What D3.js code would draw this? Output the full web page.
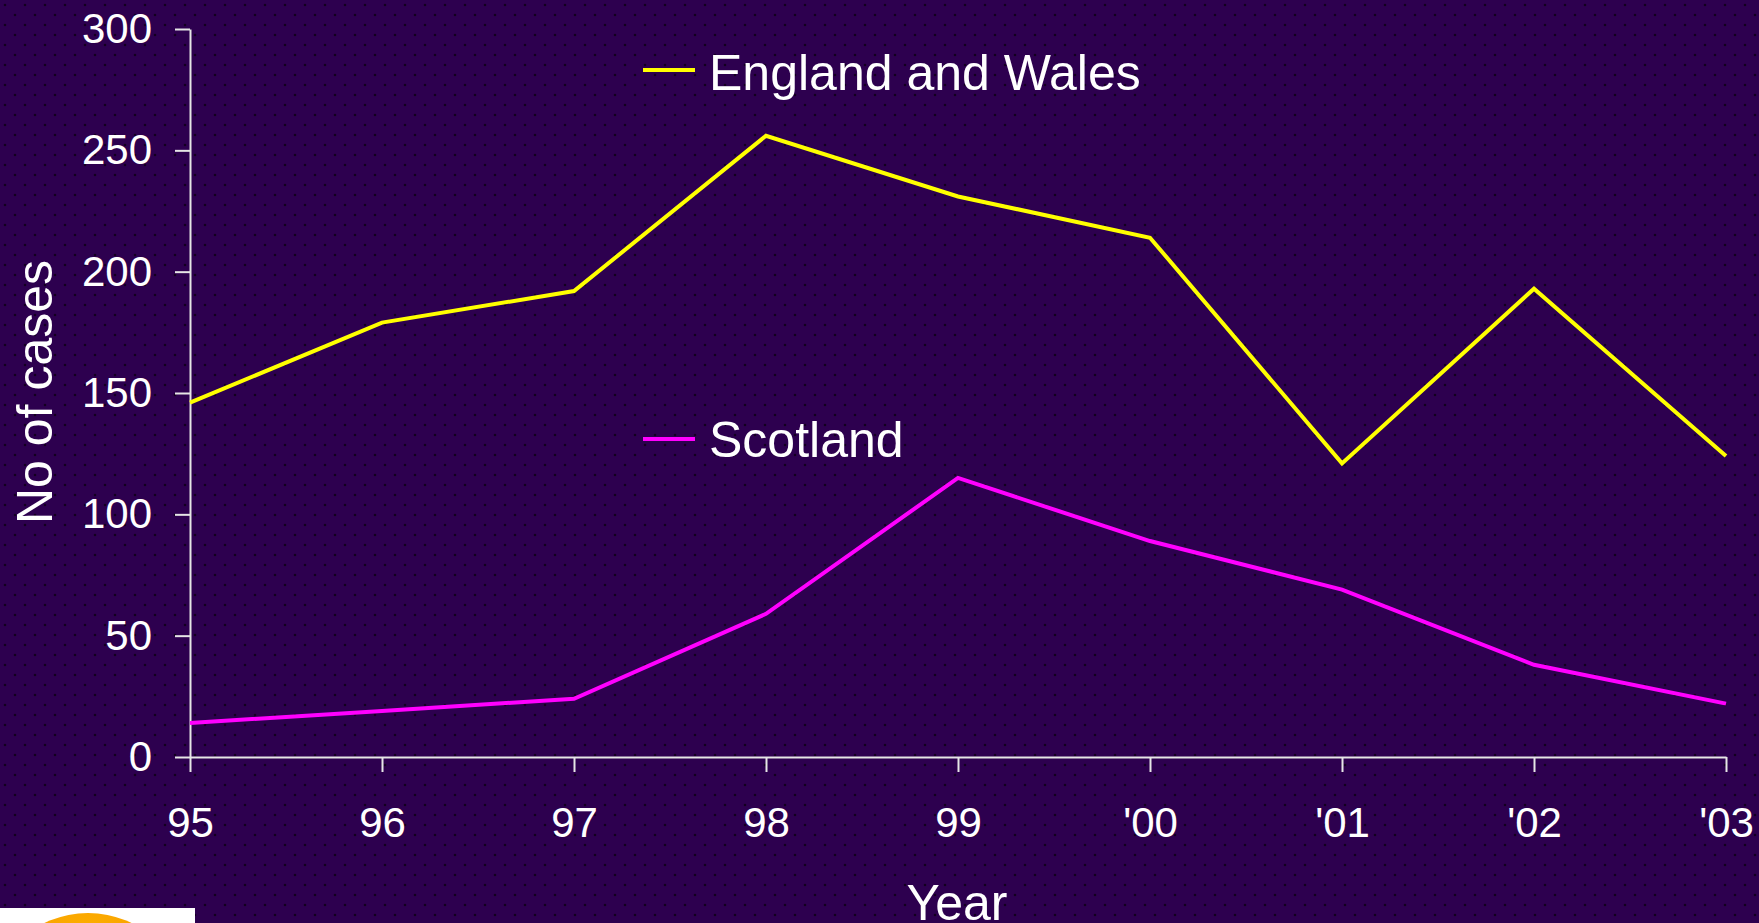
<!DOCTYPE html>
<html>
<head>
<meta charset="utf-8">
<script src="https://cdn.jsdelivr.net/npm/d3@7/dist/d3.min.js"></script>
<style>
  html, body { margin: 0; padding: 0; background: #2d004f; overflow: hidden; }
  svg { display: block; font-family: "Liberation Sans", Arial, sans-serif; }
</style>
</head>
<body>
<svg id="chart" width="1759" height="923"></svg>
<script>
// Reported cases per year
const years = ["95", "96", "97", "98", "99", "'00", "'01", "'02", "'03"];
const englandWales = [146, 179, 192, 256, 231, 214, 121, 193, 124];
const scotland = [14, 19, 24, 59, 115, 89, 69, 38, 22];
const yTicks = [0, 50, 100, 150, 200, 250, 300];
const seriesNames = ["England and Wales", "Scotland"];

const W = 1759, H = 923;
const svg = d3.select("#chart");

// Dotted slide background
const defs = svg.append("defs");
const pat = defs.append("pattern")
  .attr("id", "dots").attr("patternUnits", "userSpaceOnUse")
  .attr("width", 20).attr("height", 20);
pat.append("rect").attr("width", 20).attr("height", 20).attr("fill", "#2d004f");
[[5, 5], [15, 15]].forEach(([cx, cy]) =>
  pat.append("circle").attr("cx", cx).attr("cy", cy).attr("r", 1.3).attr("fill", "#12001f"));
svg.append("rect").attr("width", W).attr("height", H).attr("fill", "url(#dots)");

const grad = defs.append("radialGradient").attr("id", "sun")
  .attr("cx", "50%").attr("cy", "20%").attr("r", "60%");
grad.append("stop").attr("offset", "0%").attr("stop-color", "#ffb400");
grad.append("stop").attr("offset", "100%").attr("stop-color", "#f39200");

// Scales
const x = d3.scalePoint().domain(years).range([190, 1726]);
const y = d3.scaleLinear().domain([0, 300]).range([757, 29]);

const axisColor = "#e6e6e6";

// Y axis
const gy = svg.append("g").attr("transform", "translate(190,0)")
  .call(d3.axisLeft(y).tickValues(yTicks).tickSize(15).tickSizeOuter(0).tickPadding(23));
// X axis
const gx = svg.append("g").attr("transform", "translate(0,757)")
  .call(d3.axisBottom(x).tickSize(15).tickSizeOuter(0).tickPadding(35));

[gx, gy].forEach(g => {
  g.selectAll("path.domain").attr("stroke", axisColor).attr("stroke-width", 2);
  g.selectAll(".tick line").attr("stroke", axisColor).attr("stroke-width", 2);
  g.selectAll(".tick text").attr("fill", "#ffffff")
    .attr("font-size", 42).attr("font-family", "'Liberation Sans', Arial, sans-serif");
});

// Series lines
const line = d3.line().x((d, i) => x(years[i])).y(d => y(d));
const colors = ["#ffff00", "#ff00ff"];
[englandWales, scotland].forEach((vals, k) => {
  svg.append("path").datum(vals)
    .attr("d", line)
    .attr("fill", "none")
    .attr("stroke", colors[k])
    .attr("stroke-width", 4)
    .attr("stroke-linejoin", "miter");
});

// Legend labels placed next to each series
const legendPos = [{ ly: 70, ty: 90 }, { ly: 439, ty: 457 }];
seriesNames.forEach((name, k) => {
  svg.append("line")
    .attr("x1", 643).attr("x2", 695)
    .attr("y1", legendPos[k].ly).attr("y2", legendPos[k].ly)
    .attr("stroke", colors[k]).attr("stroke-width", 4);
  svg.append("text")
    .attr("x", 709).attr("y", legendPos[k].ty)
    .attr("fill", "#ffffff").attr("font-size", 50)
    .text(name);
});

// Axis titles
svg.append("text")
  .attr("transform", "translate(52,392) rotate(-90)")
  .attr("text-anchor", "middle")
  .attr("fill", "#ffffff").attr("font-size", 50)
  .text("No of cases");
svg.append("text")
  .attr("x", 957).attr("y", 920)
  .attr("text-anchor", "middle")
  .attr("fill", "#ffffff").attr("font-size", 50)
  .text("Year");

// Logo corner
svg.append("rect").attr("x", 0).attr("y", 908).attr("width", 195).attr("height", 15).attr("fill", "#ffffff");
svg.append("circle").attr("cx", 88).attr("cy", 1013).attr("r", 100).attr("fill", "url(#sun)");
</script>
</body>
</html>
